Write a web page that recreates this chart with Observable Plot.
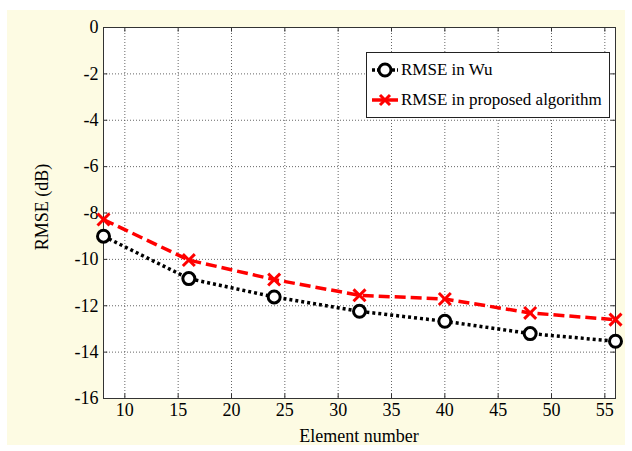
<!DOCTYPE html>
<html>
<head>
<meta charset="utf-8">
<script src="https://cdn.jsdelivr.net/npm/d3@7"></script>
<script src="https://cdn.jsdelivr.net/npm/@observablehq/plot@0.6"></script>
<style>
  html, body { margin: 0; padding: 0; background: #ffffff; }
  #wrap { position: relative; width: 632px; height: 451px; overflow: hidden;
          font-family: "Liberation Serif", "Times New Roman", Times, "DejaVu Serif", serif; }
  #bg { position: absolute; left: 7px; top: 10px; width: 618px; height: 435px; background: #fdfbe3; }
  #chart { position: absolute; left: 0; top: 0; }
  #chart svg text { font-family: "Liberation Serif", "Times New Roman", Times, "DejaVu Serif", serif !important; font-size: 18px !important; }
  #legend { position: absolute; left: 366px; top: 52px; width: 242px; height: 64px;
            background: #fff; border: 1px solid #222; font-size: 17px; color: #000; }
  #legend .row { position: absolute; left: 0; height: 20px; display: flex; align-items: center; white-space: nowrap; }
  #legend svg { display: block; }
  .axlabel { position: absolute; font-size: 18px; color: #000; white-space: nowrap; line-height: 1; }
  #xlabel { left: 359px; top: 436px; transform: translate(-50%, -50%); }
  #ylabel { left: 42px; top: 207px; transform: translate(-50%, -50%) rotate(-90deg); }
</style>
</head>
<body>
<div id="wrap">
  <div id="bg"></div>
  <div id="chart"></div>
  <div id="legend"></div>
  <div class="axlabel" id="xlabel"></div>
  <div class="axlabel" id="ylabel"></div>
</div>
<script>
const elements = [8, 16, 24, 32, 40, 48, 56];
const rmseWu = [-9.0, -10.83, -11.62, -12.24, -12.67, -13.2, -13.53];
const rmseProposed = [-8.28, -10.03, -10.87, -11.55, -11.71, -12.31, -12.6];
const xTicks = [10, 15, 20, 25, 30, 35, 40, 45, 50, 55];
const yTicks = [0, -2, -4, -6, -8, -10, -12, -14, -16];
const seriesNames = ["RMSE in Wu", "RMSE in proposed algorithm"];
const xTitle = "Element number";
const yTitle = "RMSE (dB)";

const wu = elements.map((e, i) => ({x: e, y: rmseWu[i]}));
const prop = elements.map((e, i) => ({x: e, y: rmseProposed[i]}));

const gridStyle = {stroke: "#555", strokeOpacity: 0.9, strokeWidth: 1, strokeDasharray: "1,2"};
const FONT = "Liberation Serif, Times New Roman, serif";

const chart = Plot.plot({
  width: 632,
  height: 451,
  marginLeft: 103,
  marginRight: 17,
  marginTop: 27,
  marginBottom: 53,
  style: {fontFamily: FONT, fontSize: "18px", background: "transparent", color: "#000"},
  x: {domain: [8, 56]},
  y: {domain: [-16, 0]},
  marks: [
    Plot.frame({fill: "white", stroke: null}),
    Plot.gridX(xTicks, gridStyle),
    Plot.gridY(yTicks, gridStyle),
    Plot.ruleX(xTicks, {y1: -16, y2: -15.8, stroke: "#333"}),
    Plot.ruleX(xTicks, {y1: 0, y2: -0.2, stroke: "#333"}),
    Plot.ruleY(yTicks, {x1: 8, x2: 8.4, stroke: "#333"}),
    Plot.ruleY(yTicks, {x1: 56, x2: 55.6, stroke: "#333"}),
    Plot.frame({stroke: "#333", strokeWidth: 1}),
    Plot.axisX(xTicks, {tickSize: 0, tickPadding: 5, fontSize: 18, fontFamily: FONT, label: null}),
    Plot.axisY(yTicks, {tickSize: 0, tickPadding: 5, fontSize: 18, fontFamily: FONT, tickFormat: d => d === 0 ? "0" : "-" + Math.abs(d), label: null}),
    Plot.line(wu, {x: "x", y: "y", stroke: "#000", strokeWidth: 3.5, strokeDasharray: "3,3", strokeLinecap: "butt"}),
    Plot.line(prop, {x: "x", y: "y", stroke: "#ff0000", strokeWidth: 3.5, strokeDasharray: "11,5", strokeLinecap: "butt"}),
    Plot.dot(wu, {x: "x", y: "y", r: 6, stroke: "#000", strokeWidth: 3, fill: "white"}),
    Plot.dot(prop, {x: "x", y: "y", r: 5.5, symbol: "times", stroke: "#ff0000", strokeWidth: 3})
  ]
});
document.getElementById("chart").appendChild(chart);
document.getElementById("xlabel").textContent = xTitle;
document.getElementById("ylabel").textContent = yTitle;

// Legend
const legend = document.getElementById("legend");
const legendItems = [
  {name: seriesNames[0], color: "#000", marker: "circle"},
  {name: seriesNames[1], color: "#ff0000", marker: "times"}
];
legendItems.forEach((it, i) => {
  const row = document.createElement("div");
  row.className = "row";
  row.style.top = (7 + i * 30) + "px";
  const ns = "http://www.w3.org/2000/svg";
  const s = document.createElementNS(ns, "svg");
  s.setAttribute("width", 34); s.setAttribute("height", 20);
  const ln = document.createElementNS(ns, "line");
  ln.setAttribute("x1", 5); ln.setAttribute("x2", 31); ln.setAttribute("y1", 10); ln.setAttribute("y2", 10);
  ln.setAttribute("stroke", it.color); ln.setAttribute("stroke-width", 3.5);
  if (it.marker === "circle") ln.setAttribute("stroke-dasharray", "3,2");
  s.appendChild(ln);
  if (it.marker === "circle") {
    const c = document.createElementNS(ns, "circle");
    c.setAttribute("cx", 18); c.setAttribute("cy", 10); c.setAttribute("r", 6);
    c.setAttribute("fill", "white"); c.setAttribute("stroke", it.color); c.setAttribute("stroke-width", 3);
    s.appendChild(c);
  } else {
    const p = document.createElementNS(ns, "path");
    p.setAttribute("d", "M13,5L23,15M13,15L23,5");
    p.setAttribute("stroke", it.color); p.setAttribute("stroke-width", 3);
    s.appendChild(p);
  }
  row.appendChild(s);
  const t = document.createElement("span");
  t.textContent = it.name;
  row.appendChild(t);
  legend.appendChild(row);
});
</script>
</body>
</html>
